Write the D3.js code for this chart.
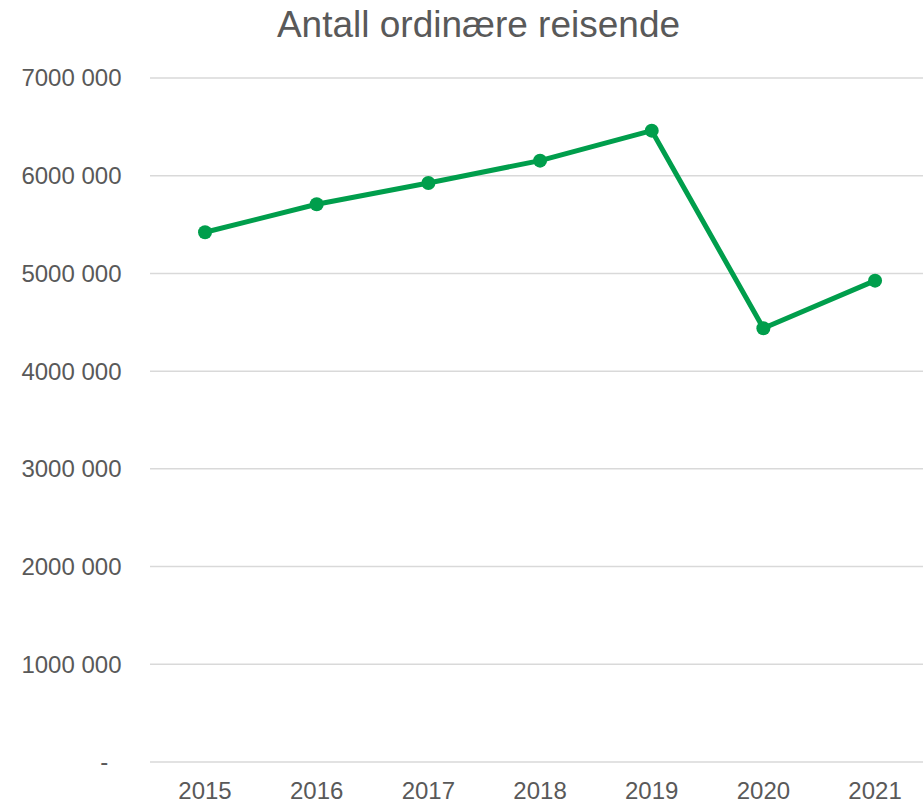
<!DOCTYPE html>
<html>
<head>
<meta charset="utf-8">
<script src="https://cdn.jsdelivr.net/npm/d3@7"></script>
<style>
  html, body { margin: 0; padding: 0; background: #fff; }
  svg { display: block; }
  text { font-family: "Liberation Sans", Arial, sans-serif; fill: #595959; }
</style>
</head>
<body>
<script>
const title = "Antall ordinære reisende";
const years = ["2015", "2016", "2017", "2018", "2019", "2020", "2021"];
const values = [5421000, 5708000, 5926000, 6154000, 6461000, 4439000, 4926000];
const yTicks = [0, 1000000, 2000000, 3000000, 4000000, 5000000, 6000000, 7000000];
const yTickLabels = ["-\u00a0\u00a0", "1000 000", "2000 000", "3000 000", "4000 000", "5000 000", "6000 000", "7000 000"];

const W = 923, H = 803;
const svg = d3.select("body").append("svg").attr("width", W).attr("height", H);

const x = d3.scaleBand().domain(years).range([149.2, 930.9]).paddingInner(0).paddingOuter(0);
const y = d3.scaleLinear().domain([0, 7000000]).range([762, 78]);
const cx = d => x(d) + x.bandwidth() / 2;

// Title
svg.append("text")
  .attr("x", 478.5).attr("y", 37)
  .attr("text-anchor", "middle")
  .style("font-size", "37px")
  .text(title);

// Gridlines
svg.append("g").selectAll("line").data(yTicks).join("line")
  .attr("x1", 150).attr("x2", W)
  .attr("y1", d => y(d)).attr("y2", d => y(d))
  .attr("stroke", "#d9d9d9").attr("stroke-width", 1.5);

// Y axis labels
svg.append("g").selectAll("text").data(yTicks).join("text")
  .attr("x", 121.5)
  .attr("y", d => y(d))
  .attr("dy", "0.35em")
  .attr("text-anchor", "end")
  .style("font-size", "24px")
  .style("white-space", "pre")
  .text((d, i) => yTickLabels[i]);

// X axis labels
svg.append("g").selectAll("text").data(years).join("text")
  .attr("x", d => cx(d))
  .attr("y", 799)
  .attr("text-anchor", "middle")
  .style("font-size", "24px")
  .text(d => d);

const pts = years.map((yr, i) => ({ yr, v: values[i] }));

svg.append("path")
  .datum(pts)
  .attr("fill", "none")
  .attr("stroke", "#009e4c")
  .attr("stroke-width", 5)
  .attr("stroke-linejoin", "round")
  .attr("d", d3.line().x(d => cx(d.yr)).y(d => y(d.v)));

svg.append("g").selectAll("circle").data(pts).join("circle")
  .attr("cx", d => cx(d.yr))
  .attr("cy", d => y(d.v))
  .attr("r", 7)
  .attr("fill", "#009e4c");
</script>
</body>
</html>
